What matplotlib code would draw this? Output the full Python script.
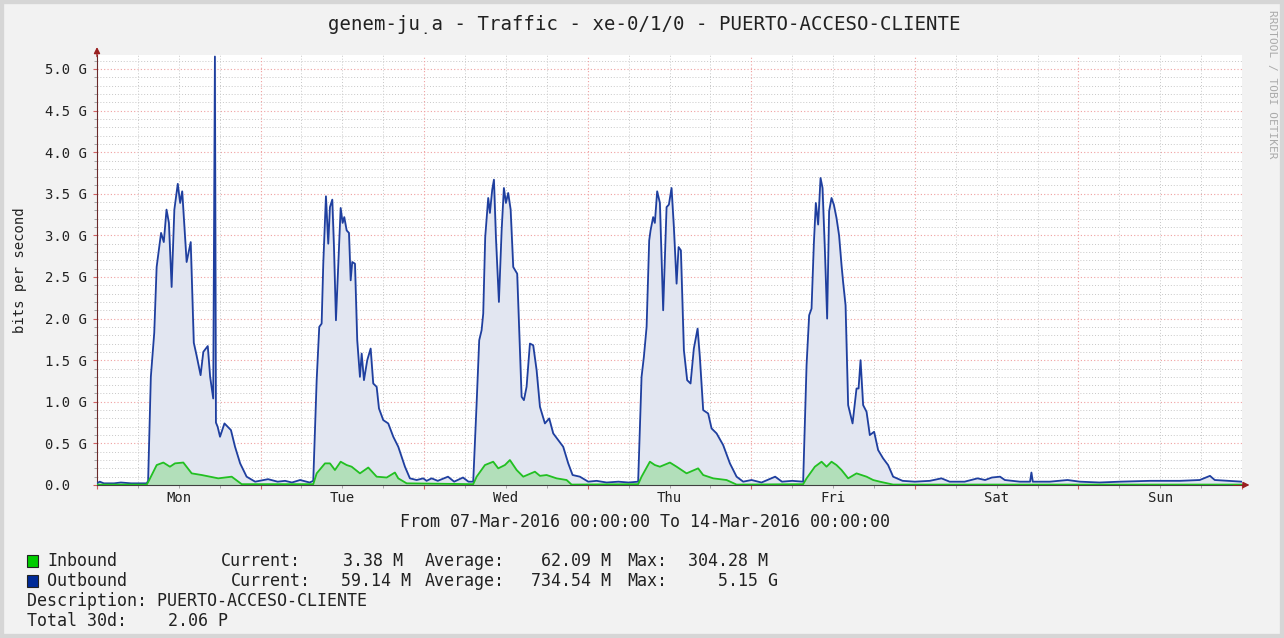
import matplotlib
matplotlib.use('Agg')
import matplotlib.pyplot as plt
from matplotlib.patches import Rectangle
import numpy as np

# hours since Mon 07-Mar-2016 00:00, values in Gbit/s
out_hours = [0, 0.4, 1.0, 2.5, 3.5, 5.0, 6.5, 7.3, 7.5, 7.9, 8.4, 8.75, 9.4, 9.8, 10.2, 10.55,
             10.95, 11.35, 11.85, 12.2, 12.5, 13.15, 13.75, 14.2, 14.6, 15.2, 15.6, 16.25,
             16.6, 17.05, 17.3, 17.45, 17.7, 18.05, 18.7, 19.65, 20.25, 21.0, 21.95, 23.2,
             25.1, 26.5, 27.6, 28.6, 29.8, 31.2,
             31.73, 32.23, 32.61, 32.96, 33.2, 33.59, 33.93, 34.18, 34.52, 34.77, 35.06,
             35.4, 35.75, 36.04, 36.28, 36.63, 36.97, 37.22, 37.45, 37.85, 38.18, 38.58,
             38.83, 39.17, 39.65, 40.15, 40.53, 41.03, 41.37, 42.0, 42.73, 43.47, 44.2,
             45.18, 45.91, 46.9, 47.87, 48.36, 49.1, 50.0, 51.5, 52.4, 53.7, 54.5,
             55.2, 55.7, 56.08, 56.43, 56.67, 56.96, 57.4, 57.65, 57.99, 58.24, 58.53,
             58.97, 59.37, 59.7, 60.0, 60.33, 60.69, 61.07, 61.65, 61.95, 62.3, 62.64,
             63.03, 63.52, 64.0, 64.5, 64.99, 65.72, 66.35, 66.94, 67.67, 68.4, 69.14,
             69.78, 70.85, 72.07, 73.3, 74.77, 76.5, 78.0,
             79.4, 79.9, 80.24, 80.64, 81.02, 81.22, 81.6, 81.85, 82.19, 82.59, 83.07,
             83.57, 83.91, 84.3, 84.64, 85.04, 85.33, 85.67, 86.11, 86.59, 87.09, 87.57,
             88.12, 88.45, 88.94, 89.67, 90.17, 90.91, 91.87, 92.86, 93.84, 94.81, 96.04,
             97.5, 99.5, 100.5, 102.0,
             103.61, 104.11, 104.49, 104.84, 105.18, 105.47, 105.81, 106.16, 106.45,
             106.79, 107.13, 107.42, 107.77, 108.11, 108.5, 108.88, 109.24, 109.47,
             109.83, 110.21, 110.86, 111.44, 111.74, 112.03, 112.41, 112.91, 113.39,
             114.02, 114.61, 115.34, 116.07, 116.81, 118.2,
             120.0, 122.2, 123.9, 125.1, 127.3, 129.2, 130.3, 131.3, 132.5, 133.2, 135.4,
             136.9, 137.1, 137.3, 139.8, 142.4, 144.2, 147.1, 150.1, 154.5, 158.9, 161.8,
             163.3, 164.0, 168.0]
out_gbps = [0.02, 0.04, 0.02, 0.02, 0.03, 0.02, 0.02, 0.02, 0.05, 1.30, 1.83, 2.62, 3.03, 2.92, 3.31, 3.15,
            2.38, 3.31, 3.62, 3.39, 3.53, 2.68, 2.92, 1.71, 1.56, 1.32, 1.60, 1.67,
            1.30, 1.04, 5.15, 0.75, 0.70, 0.58, 0.74, 0.66, 0.46, 0.26, 0.10, 0.04,
            0.07, 0.04, 0.05, 0.03, 0.06, 0.03,
            0.05, 1.26, 1.90, 1.94, 2.66, 3.47, 2.90, 3.34, 3.43, 2.86, 1.98,
            2.66, 3.33, 3.15, 3.22, 3.06, 3.03, 2.46, 2.68, 2.66, 1.74, 1.30,
            1.58, 1.26, 1.50, 1.64, 1.22, 1.18, 0.92, 0.78, 0.74, 0.58, 0.46,
            0.22, 0.08, 0.06, 0.08, 0.05, 0.08, 0.05, 0.10, 0.04, 0.09, 0.04,
            0.04, 0.98, 1.74, 1.86, 2.06, 2.98, 3.45, 3.27, 3.55, 3.67, 2.98,
            2.20, 3.06, 3.57, 3.39, 3.51, 3.31, 2.62, 2.54, 1.86, 1.06, 1.02,
            1.18, 1.70, 1.68, 1.38, 0.94, 0.74, 0.80, 0.62, 0.54, 0.46, 0.26,
            0.12, 0.10, 0.04, 0.05, 0.03, 0.04, 0.03,
            0.04, 1.30, 1.54, 1.90, 2.94, 3.06, 3.22, 3.15, 3.53, 3.39, 2.10,
            3.34, 3.37, 3.57, 3.10, 2.42, 2.86, 2.82, 1.62, 1.26, 1.22, 1.64,
            1.88, 1.54, 0.90, 0.86, 0.68, 0.62, 0.48, 0.26, 0.10, 0.04, 0.06,
            0.03, 0.10, 0.04, 0.05,
            0.04, 1.44, 2.04, 2.12, 2.90, 3.39, 3.13, 3.69, 3.57,
            2.84, 2.00, 3.29, 3.45, 3.37, 3.21, 3.00, 2.64, 2.44,
            2.16, 0.96, 0.74, 1.16, 1.16, 1.50, 0.96, 0.88, 0.60,
            0.64, 0.42, 0.32, 0.24, 0.10, 0.05,
            0.04, 0.05, 0.08, 0.04, 0.04, 0.08, 0.06, 0.09, 0.10, 0.06, 0.04,
            0.04, 0.15, 0.04, 0.04, 0.06, 0.04, 0.03, 0.04, 0.05, 0.05, 0.06,
            0.11, 0.06, 0.04]

in_hours = [0, 7.3, 7.6, 8.76, 9.73, 10.7, 11.44, 12.66, 13.89, 15.36, 17.79, 19.76, 21.23,
            31.73, 32.23, 33.45, 34.18, 34.91, 35.75, 36.63, 37.36, 38.58, 39.8, 41.03,
            42.5, 43.71, 44.2, 45.43,
            55.2, 55.7, 56.92, 58.13, 58.87, 59.85, 60.58, 61.57, 62.54, 64.25, 64.99,
            65.97, 67.43, 68.9, 69.63,
            79.4, 79.9, 81.12, 81.85, 82.59, 84.06, 85.04, 86.5, 88.2, 88.94, 90.41,
            92.37, 93.84,
            103.61, 104.11, 105.33, 106.31, 107.04, 107.77, 108.5, 109.24, 110.21,
            111.44, 112.17, 112.91, 113.88, 114.86, 116.81, 168.0]
in_gbps = [0.005, 0.005, 0.05, 0.24, 0.27, 0.22, 0.26, 0.27, 0.14, 0.12, 0.08, 0.10, 0.01,
           0.01, 0.14, 0.26, 0.26, 0.18, 0.28, 0.24, 0.22, 0.14, 0.21, 0.10,
           0.09, 0.15, 0.08, 0.02,
           0.01, 0.10, 0.24, 0.28, 0.20, 0.24, 0.30, 0.18, 0.10, 0.16, 0.11,
           0.12, 0.08, 0.06, 0.005,
           0.01, 0.10, 0.28, 0.24, 0.22, 0.27, 0.22, 0.14, 0.20, 0.12, 0.08,
           0.06, 0.005,
           0.01, 0.08, 0.22, 0.28, 0.22, 0.28, 0.24, 0.18, 0.08,
           0.14, 0.12, 0.10, 0.06, 0.04, 0.005, 0.005]

days = ['Mon', 'Tue', 'Wed', 'Thu', 'Fri', 'Sat', 'Sun']
ytick_vals = [0.0, 0.5, 1.0, 1.5, 2.0, 2.5, 3.0, 3.5, 4.0, 4.5, 5.0]

title = 'genem-ju\u0323a - Traffic - xe-0/1/0 - PUERTO-ACCESO-CLIENTE'
mono = 'DejaVu Sans Mono'
W, H = 1284, 638

fig = plt.figure(figsize=(W / 100, H / 100), dpi=100)
fig.patch.set_facecolor('#f2f2f2')
fig.patches.append(Rectangle((0, 0), 1, 1, transform=fig.transFigure, fill=False,
                             edgecolor='#d6d6d6', linewidth=6))

ax = fig.add_axes([97 / W, 1 - 485 / H, 1145 / W, 430 / H])
ax.set_facecolor('white')
ax.set_xlim(0, 168)
ax.set_ylim(0, 430 / 83.2)

# grid
for y in np.arange(0.1, 5.2, 0.1):
    if abs(y / 0.5 - round(y / 0.5)) < 1e-6:
        ax.axhline(y, color='#f0a0a0', lw=0.8, ls=(0, (1, 2)), zorder=0)
    else:
        ax.axhline(y, color='#c8c8c8', lw=0.7, ls=(0, (1, 2)), zorder=0)
for h in range(6, 168, 6):
    if h % 24 == 0:
        ax.axvline(h, color='#f0a0a0', lw=0.8, ls=(0, (1, 2)), zorder=0)
    else:
        ax.axvline(h, color='#c8c8c8', lw=0.7, ls=(0, (1, 2)), zorder=0)

ax.fill_between(out_hours, out_gbps, color='#e2e6f1', zorder=1)
ax.plot(out_hours, out_gbps, color='#1f3f9f', lw=1.3, zorder=3)
ax.fill_between(in_hours, in_gbps, color='#b2dfba', zorder=2)
ax.plot(in_hours, in_gbps, color='#22c022', lw=1.3, zorder=4)

for s in ['top', 'right']:
    ax.spines[s].set_visible(False)
axis_col = '#6a2a2a'
ax.spines['left'].set_color(axis_col)
ax.spines['bottom'].set_color('#404040')

ax.set_yticks(ytick_vals)
ax.set_yticklabels([('%.1f G' % v) if v > 0 else '0.0  ' for v in ytick_vals],
                   family=mono, fontsize=10)
ax.set_yticks(np.arange(0, 5.2, 0.1), minor=True)
ax.tick_params(axis='y', which='major', length=3, color='#d06060', pad=4, labelcolor='#222222')
ax.tick_params(axis='y', which='minor', length=2, color='#999999')
ax.set_xticks(range(0, 169, 24))
ax.set_xticklabels([])
ax.set_xticks(range(0, 169, 6), minor=True)
ax.tick_params(axis='x', which='major', length=3, color='#d06060')
ax.tick_params(axis='x', which='minor', length=2, color='#999999')

for i, d in enumerate(days):
    ax.text(12 + 24 * i, -13 / 430, d, transform=ax.get_xaxis_transform(),
            ha='center', va='center', family=mono, fontsize=10, color='#222222')

# axis arrows
ax.annotate('', xy=(0, 1.025), xycoords='axes fraction', xytext=(0, 0.99),
            arrowprops=dict(arrowstyle='-|>', color='#9a2020', lw=1, mutation_scale=9))
ax.annotate('', xy=(1.009, 0), xycoords='axes fraction', xytext=(0.99, 0),
            arrowprops=dict(arrowstyle='-|>', color='#9a2020', lw=1, mutation_scale=9))

ax.set_ylabel('bits per second', family=mono, fontsize=10, color='#222222')
ax.yaxis.set_label_coords(-70 / 1145, 0.5)

fig.text(0.502, 1 - 24 / H, title, ha='center', va='center', fontsize=13.7,
         family=mono, color='#222222')
fig.text(1272 / W, 1 - 10 / H, 'RRDTOOL / TOBI OETIKER', rotation=-90, ha='center', va='top',
         family=mono, fontsize=8, color='#aaaaaa')
fig.text(645 / W, 1 - 522 / H, 'From 07-Mar-2016 00:00:00 To 14-Mar-2016 00:00:00',
         ha='center', va='center', family=mono, fontsize=12, color='#222222')

# legend
def legend_row(y, color, pieces):
    fig.patches.append(Rectangle((27 / W, 1 - (y + 6) / H), 11 / W, 12 / H,
                                 transform=fig.transFigure, facecolor=color,
                                 edgecolor='#222222', linewidth=0.8))
    for x, s in pieces:
        fig.text(x / W, 1 - y / H, s, ha='left', va='center', family=mono,
                 fontsize=12, color='#222222')

legend_row(561, '#00cc00', [(47, 'Inbound'), (221, 'Current:'), (343, '3.38 M'),
                            (425, 'Average:'), (541, '62.09 M'), (627, 'Max:'),
                            (688, '304.28 M')])
legend_row(581, '#002a97', [(47, 'Outbound'), (231, 'Current:'), (341, '59.14 M'),
                            (425, 'Average:'), (531, '734.54 M'), (627, 'Max:'),
                            (718, '5.15 G')])
fig.text(27 / W, 1 - 601 / H, 'Description: PUERTO-ACCESO-CLIENTE', ha='left', va='center',
         family=mono, fontsize=12, color='#222222')
fig.text(27 / W, 1 - 621 / H, 'Total 30d:', ha='left', va='center',
         family=mono, fontsize=12, color='#222222')
fig.text(168 / W, 1 - 621 / H, '2.06 P', ha='left', va='center',
         family=mono, fontsize=12, color='#222222')

fig.savefig('out.png', dpi=100, facecolor=fig.get_facecolor())
